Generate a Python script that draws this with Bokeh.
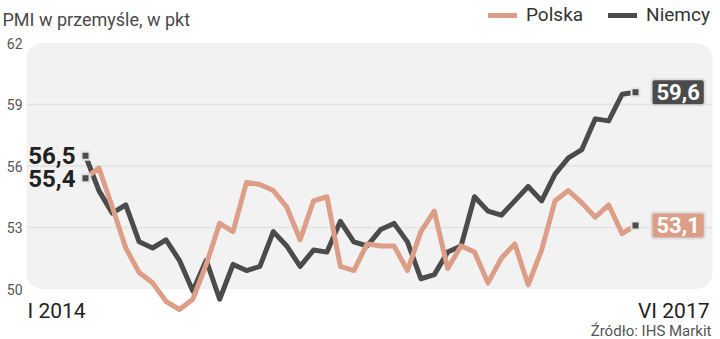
from bokeh.plotting import figure
from bokeh.models import (Range1d, BoxAnnotation, Label, Legend, LegendItem,
                          ColumnDataSource)
from bokeh.core.properties import value
from bokeh.embed import file_html
from bokeh.resources import INLINE

# Manufacturing PMI, monthly, I 2014 - VI 2017
polska = [55.4, 55.9, 54.0, 52.0, 50.8, 50.3, 49.4, 49.0, 49.5, 51.2, 53.2, 52.8,
          55.2, 55.1, 54.8, 54.0, 52.4, 54.3, 54.5, 51.1, 50.9, 52.2, 52.1, 52.1,
          50.9, 52.8, 53.8, 51.0, 52.1, 51.8, 50.3, 51.5, 52.2, 50.2, 51.9, 54.3,
          54.8, 54.2, 53.5, 54.1, 52.7, 53.1]
niemcy = [56.5, 54.8, 53.7, 54.1, 52.3, 52.0, 52.4, 51.4, 49.9, 51.4, 49.5, 51.2,
          50.9, 51.1, 52.8, 52.1, 51.1, 51.9, 51.8, 53.3, 52.3, 52.1, 52.9, 53.2,
          52.3, 50.5, 50.7, 51.8, 52.1, 54.5, 53.8, 53.6, 54.3, 55.0, 54.3, 55.6,
          56.4, 56.8, 58.3, 58.2, 59.5, 59.6]
series_names = ["Polska", "Niemcy"]
period_labels = ["I 2014", "VI 2017"]
y_ticks = [50, 53, 56, 59, 62]
grid_ticks = [53, 56, 59]

months = list(range(len(polska)))

PL_COLOR = "#dc9e86"
DE_COLOR = "#4b4b4b"
TEXT_DARK = "#222222"
TEXT_GREY = "#555555"
FONT = "Roboto"

# pixel -> data helpers for placing annotations (frame covers the whole canvas)
X0_PX, DX_PX = 85.0, 13.415
Y50_PX, DY_PX = 288.5, 20.5


def dx(px):
    return (px - X0_PX) / DX_PX


def dy(py):
    return 50 + (Y50_PX - py) / DY_PX


def fmt(v):
    return f"{v:.1f}".replace(".", ",")


p = figure(width=720, height=339, output_backend="svg", toolbar_location=None,
           x_range=Range1d(dx(0), dx(720)), y_range=Range1d(dy(339), dy(0)),
           x_axis_location=None, y_axis_location=None,
           min_border_left=0, min_border_right=0, min_border_top=0, min_border_bottom=0)
p.outline_line_color = None
p.background_fill_color = "white"
p.border_fill_color = "white"
p.grid.visible = False

# rounded plot panel
panel = BoxAnnotation(left=dx(26), right=dx(712), bottom=50, top=62,
                      fill_color="#f2f2f2", fill_alpha=1, line_color=None,
                      border_radius=16, level="image")
p.add_layout(panel)

# horizontal grid lines across the panel
p.segment(x0=[dx(26)] * len(grid_ticks), x1=[dx(712)] * len(grid_ticks),
          y0=grid_ticks, y1=grid_ticks, line_color="#e2e2e2", line_width=1.5,
          level="underlay")

# value scale labels
p.text(x=[dx(22)] * len(y_ticks), y=y_ticks, text=[str(t) for t in y_ticks],
       text_align="right", text_baseline="middle", text_font=value(FONT),
       text_font_size="14px", text_color=TEXT_GREY)

src = ColumnDataSource(dict(x=months, pl=polska, de=niemcy))
r_de = p.line("x", "de", source=src, line_color=DE_COLOR, line_width=5,
              line_join="round", line_cap="round")
r_pl = p.line("x", "pl", source=src, line_color=PL_COLOR, line_width=5,
              line_join="round", line_cap="round")

# end-point markers
ends = ColumnDataSource(dict(
    x=[months[0], months[0], months[-1], months[-1]],
    y=[polska[0], niemcy[0], polska[-1], niemcy[-1]]))
p.scatter("x", "y", source=ends, marker="square", size=8, fill_color="#4b4b4b",
          line_color="#e4e4e4", line_width=2)

# start values
start_vals = ColumnDataSource(dict(
    x=[months[0] - 10 / DX_PX] * 2,
    y=[niemcy[0], polska[0]],
    t=[fmt(niemcy[0]), fmt(polska[0])]))
p.text("x", "y", text="t", source=start_vals, text_align="right",
       text_baseline="middle", text_font=value(FONT),
       text_font_size="24px", text_font_style="bold", text_color=TEXT_DARK)

# end values in boxes
for val, fill in [(niemcy[-1], DE_COLOR), (polska[-1], PL_COLOR)]:
    p.add_layout(Label(x=dx(651), y=val, text=fmt(val), text_align="left",
                       text_baseline="middle", text_font=FONT, text_font_size="22px",
                       text_font_style="bold", text_color="white",
                       background_fill_color=fill, background_fill_alpha=1,
                       border_line_color="#dcdcdc", border_line_width=2,
                       border_radius=3, padding=5))

# title, period labels, source
p.add_layout(Label(x=dx(2), y=dy(18.5), text="PMI w przemyśle, w pkt",
                   text_font=FONT, text_font_size="18px", text_color="#4a4a4a",
                   text_align="left", text_baseline="alphabetic"))
p.add_layout(Label(x=dx(27), y=dy(310), text=period_labels[0], text_font=FONT,
                   text_font_size="21px", text_color=TEXT_DARK,
                   text_align="left", text_baseline="alphabetic"))
p.add_layout(Label(x=dx(709), y=dy(310), text=period_labels[1], text_font=FONT,
                   text_font_size="21px", text_color=TEXT_DARK,
                   text_align="right", text_baseline="alphabetic"))
p.add_layout(Label(x=dx(711), y=dy(330), text="Źródło: IHS Markit", text_font=FONT,
                   text_font_size="15px", text_color=TEXT_GREY,
                   text_align="right", text_baseline="alphabetic"))

# legend
legend = Legend(items=[LegendItem(label=series_names[0], renderers=[r_pl]),
                       LegendItem(label=series_names[1], renderers=[r_de])],
                orientation="horizontal", location=(488, 313),
                glyph_width=29, glyph_height=22, label_standoff=9, spacing=25,
                padding=0, margin=0, label_text_font=FONT,
                label_text_font_size="19px", label_text_color="#333333",
                background_fill_alpha=0, border_line_alpha=0)
p.add_layout(legend, "center")

open("out.html", "w").write(file_html(p, INLINE))
